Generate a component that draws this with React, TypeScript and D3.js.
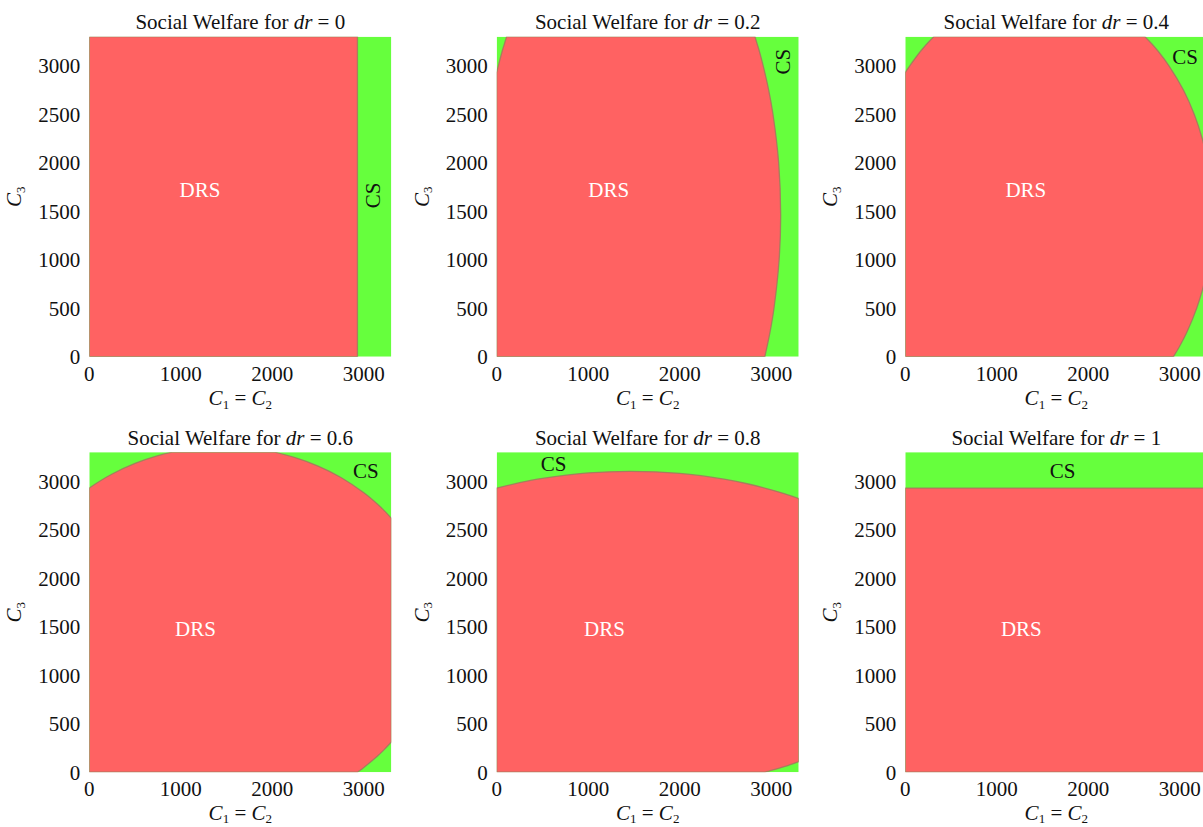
import React from "react";
import * as d3 from "d3";

type Pt = [number, number];

// ---- data ----
const drLabels = ["0", "0.2", "0.4", "0.6", "0.8", "1"];
const xTicks = [0, 1000, 2000, 3000];
const yTicks = [0, 500, 1000, 1500, 2000, 2500, 3000];
const axisMax = 3300;

// DRS region outlines (C1=C2, C3); segments with >=3 points are smooth boundary arcs
const drsRegionDr0: Pt[][] = [[[0, 0], [2930, 0]], [[2930, 3300], [0, 3300]]];
const drsRegionDr02: Pt[][] = [
  [[0, 0]],
  [[2930, 0], [2986, 250], [3030, 500], [3086, 1000], [3103, 1465], [3081, 2000], [3019, 2500], [2972, 2750], [2912, 3000], [2870, 3150], [2846, 3225], [2822, 3300]],
  [[108, 3300], [84, 3225], [60, 3150], [18, 3000], [8, 2960], [0, 2930]],
];
const drsRegionDr04: Pt[][] = [
  [[0, 0]],
  [[2930, 0], [2993, 100], [3075, 250], [3184, 500], [3264, 750], [3300, 904]],
  [[3300, 2026], [3244, 2250], [3157, 2500], [3039, 2750], [2881, 3000], [2763, 3150], [2695, 3225], [2619, 3300]],
  [[311, 3300], [235, 3225], [167, 3150], [49, 3000], [20, 2960], [0, 2930]],
];
const drsRegionDr06: Pt[][] = [
  [[0, 0]],
  [[2930, 0], [2960, 20], [3000, 49], [3150, 167], [3225, 235], [3300, 311]],
  [[3300, 2619], [3225, 2695], [3150, 2763], [3000, 2881], [2750, 3039], [2500, 3157], [2250, 3244], [2026, 3300]],
  [[904, 3300], [750, 3264], [500, 3184], [250, 3075], [100, 2993], [0, 2930]],
];
const drsRegionDr08: Pt[][] = [
  [[0, 0]],
  [[2930, 0], [2960, 8], [3000, 18], [3150, 60], [3225, 84], [3300, 108]],
  [[3300, 2822], [3225, 2846], [3150, 2870], [3000, 2912], [2750, 2972], [2500, 3019], [2000, 3081], [1465, 3103], [1000, 3086], [500, 3030], [250, 2986], [0, 2930]],
];
const drsRegionDr1: Pt[][] = [[[0, 0], [3300, 0]], [[3300, 2930], [0, 2930]]];
const drsRegions = [drsRegionDr0, drsRegionDr02, drsRegionDr04, drsRegionDr06, drsRegionDr08, drsRegionDr1];

const drsLabelPos: Pt[] = [[1210, 1724], [1224, 1724], [1317, 1724], [1161, 1483], [1177, 1483], [1268, 1483]];
const csLabelPos: Pt[] = [[3095, 1664], [3120, 3042], [3057, 3094], [3022, 3112], [622, 3180], [1718, 3112]];
const csLabelRotated = [true, true, false, false, false, false];

// ---- layout ----
const colLeft = [89.3, 496.7, 905.3];
const rowTop = [36.7, 452.2];
const xLabelOffset = [48.5, 47.5];
const plotW = 302;
const plotH = 320;
const FONT = "'Liberation Serif', 'Times New Roman', Times, serif";
const RED = "#ff6262";
const GREEN = "#66ff3d";

function regionPath(segs: Pt[][], x: (v: number) => number, y: (v: number) => number): string {
  const p = d3.path();
  let started = false;
  const ctx: any = {
    moveTo(a: number, b: number) {
      if (started) p.lineTo(a, b);
      else {
        p.moveTo(a, b);
        started = true;
      }
    },
    lineTo(a: number, b: number) {
      p.lineTo(a, b);
    },
    bezierCurveTo(a: number, b: number, c: number, d: number, e: number, f: number) {
      p.bezierCurveTo(a, b, c, d, e, f);
    },
    closePath() {},
  };
  const curve = d3
    .line<Pt>()
    .x((d) => x(d[0]))
    .y((d) => y(d[1]))
    .curve(d3.curveCatmullRom.alpha(0.5))
    .context(ctx);
  segs.forEach((seg) => {
    if (seg.length < 3) seg.forEach((pt) => ctx.moveTo(x(pt[0]), y(pt[1])));
    else curve(seg);
  });
  p.closePath();
  return p.toString();
}

function Panel({ i }: { i: number }) {
  const col = i % 3;
  const row = Math.floor(i / 3);
  const left = colLeft[col];
  const top = rowTop[row];
  const bottom = top + plotH;
  const x = d3.scaleLinear().domain([0, axisMax]).range([left, left + plotW]);
  const y = d3.scaleLinear().domain([0, axisMax]).range([bottom, top]);
  const clipId = `clip-${i}`;
  const [dx, dy] = drsLabelPos[i];
  const [cx, cy] = csLabelPos[i];
  return (
    <g>
      <defs>
        <clipPath id={clipId}>
          <rect x={left} y={top} width={plotW} height={plotH} />
        </clipPath>
      </defs>
      <g clipPath={`url(#${clipId})`}>
        <rect x={left} y={top} width={plotW} height={plotH} fill={GREEN} />
        <path d={regionPath(drsRegions[i], x, y)} fill={RED} stroke="#a07a5e" strokeWidth={1.3} strokeOpacity={0.85} />
      </g>
      {/* title */}
      <text x={left + plotW / 2} y={top - 7.5} textAnchor="middle" fontSize={21} fontFamily={FONT} fill="#111">
        {"Social Welfare for "}
        <tspan fontStyle="italic">dr</tspan>
        {" = " + drLabels[i]}
      </text>
      {/* y ticks */}
      {yTicks.map((t) => (
        <text key={"y" + t} x={left - 9} y={y(t)} dy="0.35em" textAnchor="end" fontSize={21} fontFamily={FONT} fill="#111">
          {t}
        </text>
      ))}
      {/* x ticks */}
      {xTicks.map((t) => (
        <text key={"x" + t} x={x(t)} y={bottom + 24} textAnchor="middle" fontSize={21} fontFamily={FONT} fill="#111">
          {t}
        </text>
      ))}
      {/* x axis label */}
      <text x={left + plotW / 2} y={bottom + xLabelOffset[row]} textAnchor="middle" fontSize={21} fontFamily={FONT} fill="#111">
        <tspan fontStyle="italic">C</tspan>
        <tspan fontSize={13} dy={3.5}>1</tspan>
        <tspan dy={-3.5}>{" = "}</tspan>
        <tspan fontStyle="italic">C</tspan>
        <tspan fontSize={13} dy={3.5}>2</tspan>
      </text>
      {/* y axis label */}
      <text
        transform={`translate(${left - 68},${top + plotH / 2}) rotate(-90)`}
        textAnchor="middle"
        fontSize={21}
        fontFamily={FONT}
        fill="#111"
      >
        <tspan fontStyle="italic">C</tspan>
        <tspan fontSize={13} dy={3.5}>3</tspan>
      </text>
      {/* region labels */}
      <text x={x(dx)} y={y(dy)} dy="0.35em" textAnchor="middle" fontSize={21} fontFamily={FONT} fill="#ffffff">
        DRS
      </text>
      <text
        transform={csLabelRotated[i] ? `translate(${x(cx)},${y(cy)}) rotate(-90)` : `translate(${x(cx)},${y(cy)})`}
        dy="0.35em"
        textAnchor="middle"
        fontSize={21}
        fontFamily={FONT}
        fill="#111"
      >
        CS
      </text>
    </g>
  );
}

export default function App() {
  return (
    <svg
      width={1203}
      height={827}
      viewBox="0 0 1203 827"
      style={{ position: "absolute", left: 0, top: 0, background: "#ffffff" }}
    >
      <rect x={0} y={0} width={1203} height={827} fill="#ffffff" />
      {drLabels.map((_, i) => (
        <Panel key={i} i={i} />
      ))}
    </svg>
  );
}
